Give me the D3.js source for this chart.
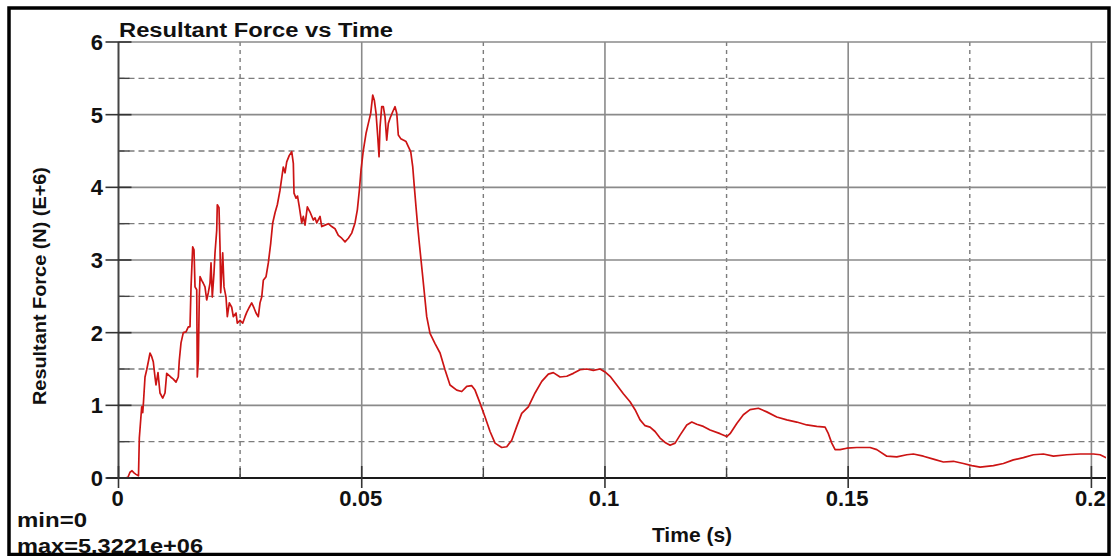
<!DOCTYPE html>
<html>
<head>
<meta charset="utf-8">
<script src="https://cdn.jsdelivr.net/npm/d3@7/dist/d3.min.js"></script>
<style>
  html, body { margin: 0; padding: 0; background: #fff; }
  svg { display: block; }
  text { font-family: "Liberation Sans", Arial, sans-serif; font-weight: bold; fill: #111; }
</style>
</head>
<body>
<div id="chart"></div>
<script>
// Resultant Force vs Time (temps en s, force en E+6 N)
const time = [
  0, 0.00134, 0.00195, 0.00236, 0.00278, 0.00319, 0.00360, 0.00411, 0.00428, 0.00477,
  0.00498, 0.00514, 0.00545, 0.00580, 0.00613, 0.00648, 0.00683, 0.00715, 0.00750, 0.00771,
  0.00812, 0.00853, 0.00909, 0.00956, 0.00991, 0.01073, 0.01127, 0.01182, 0.01229, 0.01250,
  0.01285, 0.01332, 0.01388, 0.01435, 0.01470, 0.01491, 0.01525, 0.01552, 0.01573, 0.01608,
  0.01620, 0.01641, 0.01661, 0.01676, 0.01711, 0.01743, 0.01778, 0.01813, 0.01846, 0.01881,
  0.01902, 0.01928, 0.01963, 0.01984, 0.02019, 0.02031, 0.02066, 0.02087, 0.02101, 0.02122,
  0.02142, 0.02169, 0.02210, 0.02237, 0.02278, 0.02327, 0.02360, 0.02416, 0.02442, 0.02498,
  0.02553, 0.02601, 0.02636, 0.02689, 0.02738, 0.02786, 0.02827, 0.02874, 0.02909, 0.02944,
  0.02977, 0.03033, 0.03080, 0.03129, 0.03170, 0.03218, 0.03265, 0.03320, 0.03388, 0.03423,
  0.03458, 0.03511, 0.03561, 0.03594, 0.03608, 0.03649, 0.03680, 0.03717, 0.03766, 0.03799,
  0.03834, 0.03882, 0.03937, 0.04005, 0.04040, 0.04075, 0.04143, 0.04178, 0.04245, 0.04313,
  0.04383, 0.04451, 0.04519, 0.04589, 0.04657, 0.04725, 0.04794, 0.04862, 0.04910, 0.04951,
  0.04986, 0.05033, 0.05088, 0.05136, 0.05185, 0.05226, 0.05259, 0.05294, 0.05329, 0.05356,
  0.05376, 0.05411, 0.05444, 0.05479, 0.05514, 0.05547, 0.05582, 0.05637, 0.05685, 0.05720,
  0.05752, 0.05802, 0.05855, 0.05911, 0.05958, 0.06007, 0.06049, 0.06081, 0.06116, 0.06151,
  0.06184, 0.06219, 0.06254, 0.06336, 0.06404, 0.06507, 0.06610, 0.06712, 0.06815, 0.06953,
  0.07056, 0.07159, 0.07262, 0.07329, 0.07432, 0.07535, 0.07638, 0.07741, 0.07878, 0.07981,
  0.08084, 0.08187, 0.08289, 0.08425, 0.08563, 0.08701, 0.08836, 0.08939, 0.09077, 0.09215,
  0.09350, 0.09488, 0.09626, 0.09761, 0.09899, 0.10002, 0.10105, 0.10243, 0.10378, 0.10516,
  0.10619, 0.10722, 0.10824, 0.10927, 0.11030, 0.11133, 0.11236, 0.11339, 0.11442, 0.11544,
  0.11682, 0.11785, 0.11887, 0.12023, 0.12161, 0.12366, 0.12504, 0.12572, 0.12710, 0.12845,
  0.12983, 0.13154, 0.13326, 0.13532, 0.13738, 0.13943, 0.14149, 0.14354, 0.14525, 0.14593,
  0.14663, 0.14731, 0.14834, 0.14971, 0.15177, 0.15450, 0.15588, 0.15794, 0.15999, 0.16205,
  0.16340, 0.16546, 0.16752, 0.16957, 0.17163, 0.17368, 0.17541, 0.17712, 0.17850, 0.17985,
  0.18191, 0.18396, 0.18602, 0.18808, 0.19013, 0.19219, 0.19494, 0.19768, 0.20041, 0.20179,
  0.20303
]
const force = [
  0, 0, 0.01, 0.08, 0.10, 0.07, 0.05, 0.03, 0.55, 0.98,
  0.90, 1.05, 1.39, 1.49, 1.60, 1.72, 1.67, 1.60, 1.39, 1.28,
  1.45, 1.17, 1.10, 1.17, 1.44, 1.39, 1.36, 1.32, 1.39, 1.62,
  1.86, 2.00, 2.01, 2.08, 2.08, 2.63, 3.18, 3.14, 2.63, 2.59,
  1.39, 1.62, 2.49, 2.77, 2.72, 2.68, 2.63, 2.45, 2.55, 2.68,
  2.96, 2.49, 2.82, 3.10, 3.41, 3.76, 3.72, 3.18, 2.55, 2.82,
  3.10, 2.63, 2.49, 2.22, 2.41, 2.35, 2.22, 2.27, 2.13, 2.17,
  2.13, 2.22, 2.28, 2.35, 2.41, 2.34, 2.27, 2.22, 2.41, 2.49,
  2.72, 2.77, 2.96, 3.23, 3.51, 3.65, 3.76, 3.96, 4.28, 4.20,
  4.35, 4.44, 4.49, 4.33, 3.92, 3.85, 3.88, 3.73, 3.51, 3.60,
  3.48, 3.73, 3.66, 3.55, 3.58, 3.51, 3.60, 3.46, 3.48, 3.50,
  3.46, 3.43, 3.34, 3.30, 3.25, 3.30, 3.37, 3.51, 3.69, 3.96,
  4.24, 4.51, 4.74, 4.88, 5.02, 5.27, 5.20, 5.02, 4.70, 4.42,
  4.83, 5.11, 5.11, 4.97, 4.65, 4.88, 4.95, 5.04, 5.11, 5.02,
  4.72, 4.67, 4.65, 4.63, 4.56, 4.49, 4.28, 4.01, 3.73, 3.46,
  3.23, 3.00, 2.77, 2.22, 1.99, 1.85, 1.72, 1.49, 1.28, 1.21,
  1.19, 1.26, 1.27, 1.21, 1.03, 0.84, 0.64, 0.48, 0.42, 0.43,
  0.52, 0.71, 0.89, 0.98, 1.17, 1.33, 1.43, 1.45, 1.39, 1.40,
  1.44, 1.49, 1.50, 1.48, 1.50, 1.46, 1.40, 1.28, 1.16, 1.05,
  0.94, 0.80, 0.72, 0.70, 0.64, 0.55, 0.49, 0.45, 0.48, 0.59,
  0.73, 0.77, 0.74, 0.71, 0.66, 0.61, 0.57, 0.61, 0.75, 0.87,
  0.94, 0.96, 0.91, 0.84, 0.80, 0.77, 0.73, 0.71, 0.70, 0.61,
  0.48, 0.39, 0.39, 0.41, 0.42, 0.42, 0.39, 0.30, 0.29, 0.32,
  0.33, 0.30, 0.26, 0.22, 0.23, 0.20, 0.17, 0.15, 0.16, 0.17,
  0.20, 0.25, 0.28, 0.32, 0.33, 0.30, 0.32, 0.33, 0.33, 0.32,
  0.28
]
const xMajor = [0, 0.05, 0.1, 0.15, 0.2]
const xMinor = [0.025, 0.075, 0.125, 0.175]
const yMajor = [0, 1, 2, 3, 4, 5, 6]
const yMinor = [0.5, 1.5, 2.5, 3.5, 4.5, 5.5]
const xLabels = ["0", "0.05", "0.1", "0.15", "0.2"]

const W = 1111, H = 556
const plot = { left: 118.5, right: 1106, top: 42, bottom: 478 }

const x = d3.scaleLinear().domain([0, 0.2030]).range([plot.left, plot.right])
const y = d3.scaleLinear().domain([0, 6]).range([plot.bottom, plot.top])

const svg = d3.select("#chart").append("svg")
  .attr("width", W).attr("height", H)
  .attr("viewBox", `0 0 ${W} ${H}`)

svg.append("rect").attr("width", W).attr("height", H).attr("fill", "#fff")

svg.append("defs").append("clipPath").attr("id", "clip")
  .append("rect")
  .attr("x", plot.left).attr("y", plot.top - 2)
  .attr("width", plot.right - plot.left).attr("height", plot.bottom - plot.top + 2)

const grid = svg.append("g")

// Grille pointillée (demi-unités)
grid.selectAll("line.hmin").data(yMinor).join("line")
  .attr("x1", plot.left).attr("x2", plot.right)
  .attr("y1", (d) => y(d)).attr("y2", (d) => y(d))
  .attr("stroke", "#7c7c7c").attr("stroke-width", 1.4).attr("stroke-dasharray", "6,4")

grid.selectAll("line.vmin").data(xMinor).join("line")
  .attr("x1", (d) => x(d)).attr("x2", (d) => x(d))
  .attr("y1", plot.top).attr("y2", plot.bottom)
  .attr("stroke", "#7c7c7c").attr("stroke-width", 1.4).attr("stroke-dasharray", "4,4")

// Grille pleine (unités)
grid.selectAll("line.hmaj").data(yMajor.slice(1)).join("line")
  .attr("x1", plot.left).attr("x2", plot.right)
  .attr("y1", (d) => y(d)).attr("y2", (d) => y(d))
  .attr("stroke", "#8a8a8a").attr("stroke-width", 1.6)

grid.selectAll("line.vmaj").data(xMajor.slice(1)).join("line")
  .attr("x1", (d) => x(d)).attr("x2", (d) => x(d))
  .attr("y1", plot.top).attr("y2", plot.bottom)
  .attr("stroke", "#8a8a8a").attr("stroke-width", 1.6)

// Courbe
const pts = time.map((t, i) => [t, force[i]])
svg.append("path")
  .datum(pts)
  .attr("clip-path", "url(#clip)")
  .attr("fill", "none")
  .attr("stroke", "#cc1414")
  .attr("stroke-width", 1.7)
  .attr("stroke-linejoin", "round")
  .attr("d", d3.line().x((d) => x(d[0])).y((d) => y(d[1])))

// Axes
const axes = svg.append("g")
axes.append("line")
  .attr("x1", plot.left).attr("x2", plot.left)
  .attr("y1", plot.top).attr("y2", plot.bottom)
  .attr("stroke", "#444").attr("stroke-width", 2)
axes.append("line")
  .attr("x1", plot.left - 12).attr("x2", plot.right)
  .attr("y1", plot.bottom).attr("y2", plot.bottom)
  .attr("stroke", "#1a1a1a").attr("stroke-width", 2)

axes.selectAll("line.ytick").data(yMajor).join("line")
  .attr("x1", plot.left - 13).attr("x2", plot.left + 13)
  .attr("y1", (d) => y(d)).attr("y2", (d) => y(d))
  .attr("stroke", "#333").attr("stroke-width", 1.6)
axes.selectAll("line.ytickm").data(yMinor).join("line")
  .attr("x1", plot.left).attr("x2", plot.left + 11)
  .attr("y1", (d) => y(d)).attr("y2", (d) => y(d))
  .attr("stroke", "#444").attr("stroke-width", 1.4)
axes.selectAll("line.xtick").data(xMajor).join("line")
  .attr("x1", (d) => x(d)).attr("x2", (d) => x(d))
  .attr("y1", plot.bottom - 12).attr("y2", plot.bottom + 10)
  .attr("stroke", "#333").attr("stroke-width", 1.6)
axes.selectAll("line.xtickm").data(xMinor).join("line")
  .attr("x1", (d) => x(d)).attr("x2", (d) => x(d))
  .attr("y1", plot.bottom - 10).attr("y2", plot.bottom)
  .attr("stroke", "#444").attr("stroke-width", 1.4)

// Libellés de graduation
svg.append("g").selectAll("text").data(yMajor).join("text")
  .attr("x", 103).attr("y", (d) => y(d) + 8)
  .attr("text-anchor", "end").attr("font-size", 22)
  .text((d) => d)

svg.append("g").selectAll("text").data(xMajor).join("text")
  .attr("x", (d) => x(d) - 1).attr("y", 506)
  .attr("text-anchor", "middle").attr("font-size", 22)
  .text((d, i) => xLabels[i])

// Titres
svg.append("text")
  .attr("x", 119).attr("y", 37).attr("font-size", 20)
  .attr("textLength", 274).attr("lengthAdjust", "spacingAndGlyphs")
  .text("Resultant Force vs Time")

svg.append("text")
  .attr("transform", "translate(46,286) rotate(-90)")
  .attr("text-anchor", "middle").attr("font-size", 19)
  .attr("textLength", 238).attr("lengthAdjust", "spacingAndGlyphs")
  .text("Resultant Force (N) (E+6)")

svg.append("text")
  .attr("x", 692).attr("y", 542).attr("text-anchor", "middle").attr("font-size", 21)
  .text("Time (s)")

svg.append("text")
  .attr("x", 17).attr("y", 527).attr("font-size", 20)
  .attr("textLength", 70).attr("lengthAdjust", "spacingAndGlyphs")
  .text("min=0")
svg.append("text")
  .attr("x", 17).attr("y", 553).attr("font-size", 20)
  .attr("textLength", 186).attr("lengthAdjust", "spacingAndGlyphs")
  .text("max=5.3221e+06")

// Cadre extérieur
svg.append("rect")
  .attr("x", 9).attr("y", 8).attr("width", 1100).attr("height", 546.5)
  .attr("fill", "none").attr("stroke", "#000").attr("stroke-width", 3.5)
</script>
</body>
</html>
